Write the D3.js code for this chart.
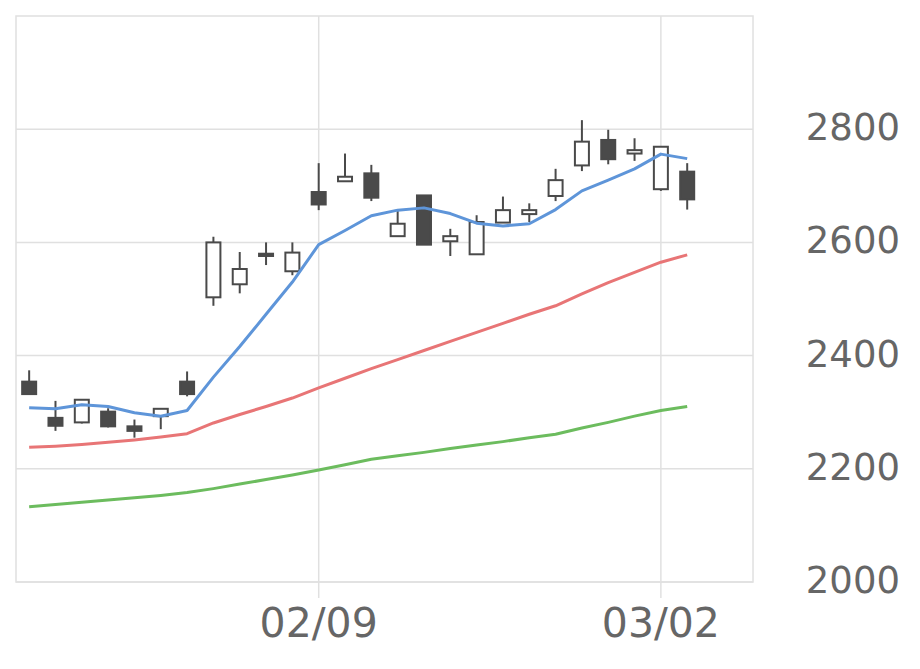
<!DOCTYPE html>
<html>
<head>
<meta charset="utf-8">
<script src="https://cdn.jsdelivr.net/npm/d3@7"></script>
<style>
  body { margin: 0; background: #fff; }
  text { font-family: "DejaVu Sans", sans-serif; fill: #666; }
</style>
</head>
<body>
<div id="chart"></div>
<script>
/* DATA */
const dates = ["01/23", "01/26", "01/27", "01/28", "01/29", "01/30", "02/02", "02/03", "02/04", "02/05",
  "02/06", "02/09", "02/10", "02/12", "02/13", "02/16", "02/17", "02/18", "02/19", "02/20",
  "02/24", "02/25", "02/26", "02/27", "03/02", "03/03"];
const open = [2354, 2290, 2282, 2301, 2275, 2293, 2354, 2503, 2526, 2580, 2549, 2689, 2708, 2722,
  2611, 2683, 2602, 2579, 2635, 2650, 2682, 2736, 2781, 2757, 2694, 2725];
const high = [2374, 2320, 2323, 2307, 2287, 2306, 2372, 2610, 2583, 2600, 2600, 2740, 2757, 2737,
  2658, 2683, 2624, 2648, 2681, 2669, 2730, 2816, 2799, 2784, 2769, 2740];
const low = [2332, 2267, 2280, 2273, 2255, 2270, 2328, 2488, 2510, 2560, 2542, 2657, 2708, 2673,
  2611, 2596, 2576, 2579, 2635, 2636, 2673, 2726, 2738, 2744, 2691, 2658];
const close = [2332, 2276, 2322, 2275, 2267, 2306, 2332, 2600, 2553, 2576, 2582, 2667, 2716, 2679,
  2633, 2596, 2611, 2636, 2657, 2657, 2710, 2778, 2747, 2763, 2769, 2676];
const ma5 = [2308, 2306, 2313, 2310, 2299, 2293, 2303, 2362, 2416, 2473, 2530, 2596, 2621, 2647,
  2657, 2661, 2651, 2634, 2629, 2633, 2658, 2691, 2710, 2730, 2756, 2748];
const ma25 = [2238, 2240, 2243, 2247, 2251, 2256, 2262, 2281, 2296, 2310, 2325, 2343, 2360, 2377,
  2393, 2409, 2425, 2441, 2457, 2473, 2488, 2509, 2529, 2547, 2565, 2578];
const ma75 = [2133, 2137, 2141, 2145, 2149, 2153, 2158, 2165, 2173, 2181, 2189, 2198, 2207, 2217,
  2223, 2229, 2236, 2242, 2248, 2255, 2261, 2272, 2282, 2293, 2303, 2310];
const xTickLabels = ["02/09", "03/02"];
const yTicks = [2000, 2200, 2400, 2600, 2800];

/* CONSTANTS */
const width = 920,
  height = 669,
  plot = { left: 16, right: 753, top: 16, bottom: 582 },
  slots = 28,
  bodyWidth = 14;

const data = dates.map((d, i) => ({
  i, date: d, open: open[i], high: high[i], low: low[i], close: close[i]
}));

const svg = d3.select("#chart").append("svg")
  .attr("width", width)
  .attr("height", height);

const xScale = d3.scaleLinear()
  .domain([-0.5, slots - 0.5])
  .range([plot.left, plot.right]);

const yScale = d3.scaleLinear()
  .domain([2000, 3000])
  .range([plot.bottom, plot.top]);

// horizontal grid
svg.append("g")
  .selectAll("line")
  .data(yTicks)
  .join("line")
  .attr("x1", plot.left)
  .attr("x2", plot.right)
  .attr("y1", d => yScale(d))
  .attr("y2", d => yScale(d))
  .attr("stroke", "#e0e0e0")
  .attr("stroke-width", 1.5);

// vertical grid at labelled dates
svg.append("g")
  .selectAll("line")
  .data(xTickLabels)
  .join("line")
  .attr("x1", d => xScale(dates.indexOf(d)))
  .attr("x2", d => xScale(dates.indexOf(d)))
  .attr("y1", plot.top)
  .attr("y2", plot.bottom + 16)
  .attr("stroke", "#e0e0e0")
  .attr("stroke-width", 1.5);

// frame
svg.append("rect")
  .attr("x", plot.left)
  .attr("y", plot.top)
  .attr("width", plot.right - plot.left)
  .attr("height", plot.bottom - plot.top)
  .attr("fill", "none")
  .attr("stroke", "#e0e0e0")
  .attr("stroke-width", 1.5);

// y labels
svg.append("g")
  .selectAll("text")
  .data(yTicks)
  .join("text")
  .attr("x", 900)
  .attr("y", d => yScale(d) + 11)
  .attr("text-anchor", "end")
  .attr("font-size", 37)
  .text(d => d);

// x labels
svg.append("g")
  .selectAll("text")
  .data(xTickLabels)
  .join("text")
  .attr("x", d => xScale(dates.indexOf(d)))
  .attr("y", 637)
  .attr("text-anchor", "middle")
  .attr("font-size", 41)
  .text(d => d);

// candles
const candle = svg.append("g")
  .selectAll("g")
  .data(data)
  .join("g");

candle.append("line")
  .attr("x1", d => xScale(d.i))
  .attr("x2", d => xScale(d.i))
  .attr("y1", d => yScale(d.high))
  .attr("y2", d => yScale(d.low))
  .attr("stroke", "#4a4a4a")
  .attr("stroke-width", 2);

candle.append("rect")
  .attr("x", d => xScale(d.i) - bodyWidth / 2)
  .attr("y", d => yScale(Math.max(d.open, d.close)))
  .attr("width", bodyWidth)
  .attr("height", d => Math.max(2, Math.abs(yScale(d.open) - yScale(d.close))))
  .attr("fill", d => d.close >= d.open ? "#fff" : "#4a4a4a")
  .attr("stroke", "#4a4a4a")
  .attr("stroke-width", 2);

// moving averages
const lineFunc = d3.line()
  .x((d, i) => xScale(i))
  .y(d => yScale(d));

const series = [
  { values: ma75, color: "#6cbc5e" },
  { values: ma25, color: "#e87576" },
  { values: ma5, color: "#5e95d9" }
];

svg.append("g")
  .selectAll("path")
  .data(series)
  .join("path")
  .attr("d", d => lineFunc(d.values))
  .attr("fill", "none")
  .attr("stroke", d => d.color)
  .attr("stroke-width", 3)
  .attr("stroke-linejoin", "round");
</script>
</body>
</html>
